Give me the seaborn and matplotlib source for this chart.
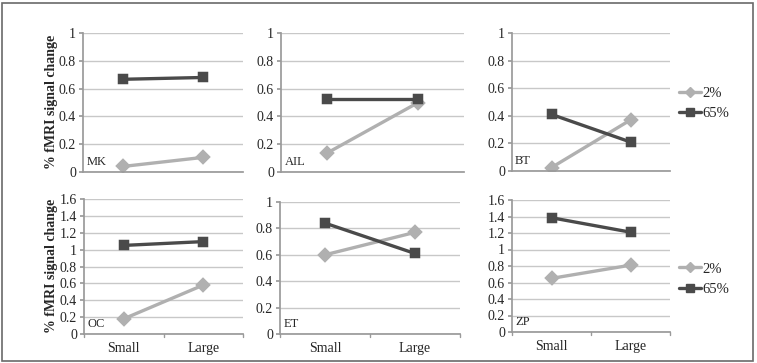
import matplotlib
matplotlib.use("Agg")
import matplotlib.pyplot as plt
import seaborn as sns
import pandas as pd
from matplotlib.patches import Rectangle
from matplotlib.lines import Line2D

sns.set_theme(style="white")
plt.rcParams['font.family'] = ['Liberation Serif', 'DejaVu Serif']

conditions = ["Small", "Large"]
series = ["2%", "65%"]
subjects = ["MK", "AIL", "BT", "OC", "ET", "ZP"]
vals_2 = {
    "MK": [0.04, 0.105], "AIL": [0.135, 0.50], "BT": [0.025, 0.37],
    "OC": [0.18, 0.58], "ET": [0.60, 0.77], "ZP": [0.65, 0.81],
}
vals_65 = {
    "MK": [0.667, 0.68], "AIL": [0.528, 0.528], "BT": [0.41, 0.21],
    "OC": [1.05, 1.095], "ET": [0.84, 0.61], "ZP": [1.385, 1.21],
}
ymax = {"MK": 1, "AIL": 1, "BT": 1, "OC": 1.6, "ET": 1, "ZP": 1.6}

light = "#b0b0b0"
dark = "#4a4a4a"
grid_c = "#c8c8c8"
W, H = 757, 363

fig = plt.figure(figsize=(W / 100, H / 100), dpi=100)

def box(x0, x1, ytop, y0):
    return [x0 / W, (H - y0) / H, (x1 - x0) / W, (y0 - ytop) / H]

rects = {
    "MK": box(83, 243, 33, 172), "AIL": box(281, 464, 33, 172), "BT": box(512, 670, 33, 171),
    "OC": box(84, 243, 199, 334), "ET": box(280, 460, 202, 334), "ZP": box(512, 670, 200, 332),
}

for i, s in enumerate(subjects):
    ax = fig.add_axes(rects[s])
    df = pd.DataFrame({
        "cond": conditions * 2,
        "val": vals_2[s] + vals_65[s],
        "series": [series[0]] * 2 + [series[1]] * 2,
    })
    sns.pointplot(data=df, x="cond", y="val", hue="series", order=conditions,
                  hue_order=series, palette=[light, dark], markers=["D", "s"],
                  linestyles=["-", "-"], ax=ax, legend=False, errorbar=None,
                  markersize=6, linewidth=2.4)
    ax.set_xlim(-0.5, 1.5)
    ym = ymax[s]
    step = 0.2
    ax.set_ylim(0, ym)
    ticks = [round(k * step, 1) for k in range(int(round(ym / step)) + 1)]
    ax.set_yticks(ticks)
    ax.set_yticklabels([("%g" % t) for t in ticks], fontsize=10)
    ax.yaxis.grid(True, color=grid_c, linewidth=1)
    ax.set_axisbelow(True)
    for sp in ["top", "right"]:
        ax.spines[sp].set_visible(False)
    ax.spines["left"].set_color("#9a9a9a")
    ax.spines["bottom"].set_color("#9a9a9a")
    ax.tick_params(axis="y", which="both", left=True, length=3, color="#9a9a9a", pad=2)
    ax.set_xlabel("")
    ax.set_ylabel("")
    if i >= 3:
        ax.set_xticks([-0.5, 0, 0.5, 1, 1.5])
        ax.set_xticklabels(["", "Small", "", "Large", ""], fontsize=10)
        ax.tick_params(axis="x", bottom=True, length=0, pad=6)
        for xt in [-0.5, 0.5, 1.5]:
            ax.plot([xt, xt], [0, -0.02 * ym], color="#9a9a9a", lw=1, clip_on=False)
    else:
        ax.set_xticks([])
    ax.text(0.02, 0.03, s, transform=ax.transAxes, fontsize=9, ha="left", va="bottom")
    if s in ("BT", "ZP"):
        handles = [Line2D([], [], color=light, marker="D", lw=2.4, markersize=5),
                   Line2D([], [], color=dark, marker="s", lw=2.4, markersize=6)]
        ax.legend(handles, series, loc="center left", bbox_to_anchor=(1.02, 0.40 if s == "ZP" else 0.49),
                  frameon=False, fontsize=10.5, handlelength=1.5, handletextpad=0.1,
                  labelspacing=0.5, borderaxespad=0)

fig.text(52 / W, 1 - 102 / H, "% fMRI signal change", rotation=90, fontsize=10,
         fontweight="bold", ha="center", va="center")
fig.text(52 / W, 1 - 266 / H, "% fMRI signal change", rotation=90, fontsize=10,
         fontweight="bold", ha="center", va="center")

fig.patches.append(Rectangle((2 / W, 2 / H), (W - 6) / W, (H - 5) / H,
                             transform=fig.transFigure, fill=False,
                             edgecolor="#6a6a6a", linewidth=1.2))

fig.savefig("out.png", dpi=100)
